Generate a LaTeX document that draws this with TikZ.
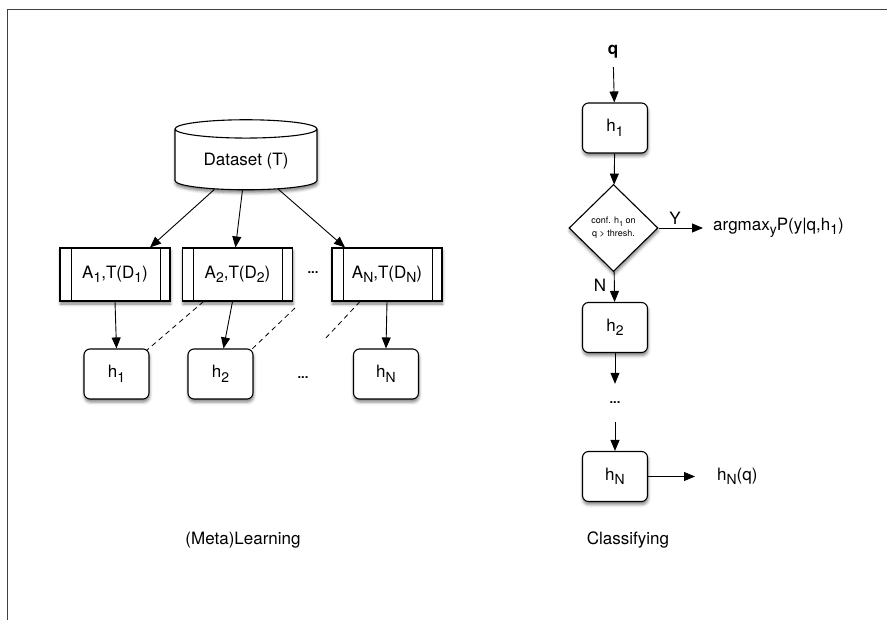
\documentclass[tikz,border=0pt]{standalone}
\usepackage{fontspec}
\setmainfont{TeX Gyre Heros}
\usetikzlibrary{shapes.geometric,arrows.meta,shadows.blur}
\newcommand{\lowsub}[1]{\raisebox{-0.5ex}{\scalebox{0.82}{#1}}}
\tikzset{
  txt/.style={font=\fontsize{17}{20}\selectfont},
  shade/.style={blur shadow={shadow xshift=0.5pt,shadow yshift=-3pt,shadow blur radius=3pt,shadow opacity=50}},
  hbox/.style={txt,draw,line width=1.1pt,rounded corners=6pt,fill=white,minimum width=65pt,minimum height=50pt,shade},
  algbox/.style={txt,draw,line width=1.1pt,fill=white,minimum width=110pt,minimum height=53pt,shade,
    path picture={\draw[line width=1pt] ([xshift=11pt]path picture bounding box.north west)--([xshift=11pt]path picture bounding box.south west);
      \draw[line width=1pt] ([xshift=-10pt]path picture bounding box.north east)--([xshift=-10pt]path picture bounding box.south east);}},
  arr/.style={-{Triangle[length=11pt,width=9pt]},line width=0.9pt},
  dashline/.style={line width=0.8pt,dash pattern=on 5pt off 4pt}
}
\begin{document}
\begin{tikzpicture}[x=1pt,y=-1pt]
\useasboundingbox (0,0) rectangle (887,620);
\draw[line width=1.3pt,black!75] (7.5,620)--(7.5,9.5)--(887,9.5);
\node[txt,draw,line width=1.1pt,fill=white,shade,cylinder,shape border rotate=90,aspect=0.2,minimum width=142pt,minimum height=70pt] (data) at (246,161) {Dataset (T)};
\node[algbox] (a1) at (115,274.5) {A\lowsub{1},T(D\lowsub{1})};
\node[algbox] (a2) at (237.5,274.5) {A\lowsub{2},T(D\lowsub{2})};
\node[algbox] (aN) at (387,274.5) {A\lowsub{N},T(D\lowsub{N})};
\node[font=\fontsize{13}{15}\selectfont\bfseries] (dotsA) at (313,273) {...};
\node[hbox] (h1) at (116.5,374) {h\lowsub{1}};
\node[hbox] (h2) at (220.5,374) {h\lowsub{2}};
\node[hbox] (hN) at (386,374) {h\lowsub{N}};
\node[font=\fontsize{13}{15}\selectfont\bfseries] (dotsH) at (303,378) {...};
\coordinate (g2) at (295,308);
\coordinate (g3) at (324,340);
\draw[arr] (data)--([xshift=35pt]a1.north);
\draw[arr] (data)--([xshift=-2pt]a2.north);
\draw[arr] (data)--([xshift=-42pt]aN.north);
\draw[arr] (a1.south)--(h1.north);
\draw[arr] ([xshift=-5pt]a2.south)--([xshift=3pt]h2.north);
\draw[arr] (aN.south)--(hN.north);
\draw[dashline] ([xshift=-34pt]a2.south)--([xshift=-3pt,yshift=-2pt]h1.north east);
\draw[dashline] (g2)--([xshift=-3pt,yshift=-2pt]h2.north east);
\draw[dashline] ([xshift=-27pt]aN.south)--(g3);
\node[txt,font=\fontsize{17}{20}\selectfont\bfseries] (q) at (613,52) {q};
\node[hbox] (c1) at (615,128) {h\lowsub{1}};
\node[draw,line width=1.1pt,fill=white,shade,diamond,aspect=1,minimum width=89pt,minimum height=87pt,inner sep=0pt,align=center,font=\fontsize{9}{13}\selectfont] (dec) at (613.5,228) {conf. h\lowsub{1} on\\q > thresh.};
\node[hbox] (c2) at (615,327.5) {h\lowsub{2}};
\node[font=\fontsize{13}{15}\selectfont\bfseries,minimum height=38pt] (dotsC) at (615,403) {...};
\node[hbox] (cN) at (615,476.5) {h\lowsub{N}};
\node[txt,anchor=west,inner sep=0pt] (arg) at (713,228) {argmax\lowsub{y}P(y|q,h\lowsub{1})};
\node[txt,anchor=west,inner sep=0pt] (hnq) at (717,476.5) {h\lowsub{N}(q)};
\node[txt] (ylab) at (675,218) {Y};
\node[txt] (nlab) at (600,285) {N};
\draw[arr,shorten <=5pt] (q)--(c1);
\draw[arr] (c1)--(dec);
\draw[arr] (dec)--(c2);
\draw[arr] (dec.east)--([xshift=-10pt]arg.west |- dec.east);
\draw[arr] (c2)--(dotsC);
\draw[arr] (dotsC)--(cN);
\draw[arr] (cN.east)--([xshift=-22pt]hnq.west |- cN.east);
\node[txt] (learn) at (243,540) {(Meta)Learning};
\node[txt] (classify) at (628,540) {Classifying};
\end{tikzpicture}
\end{document}
